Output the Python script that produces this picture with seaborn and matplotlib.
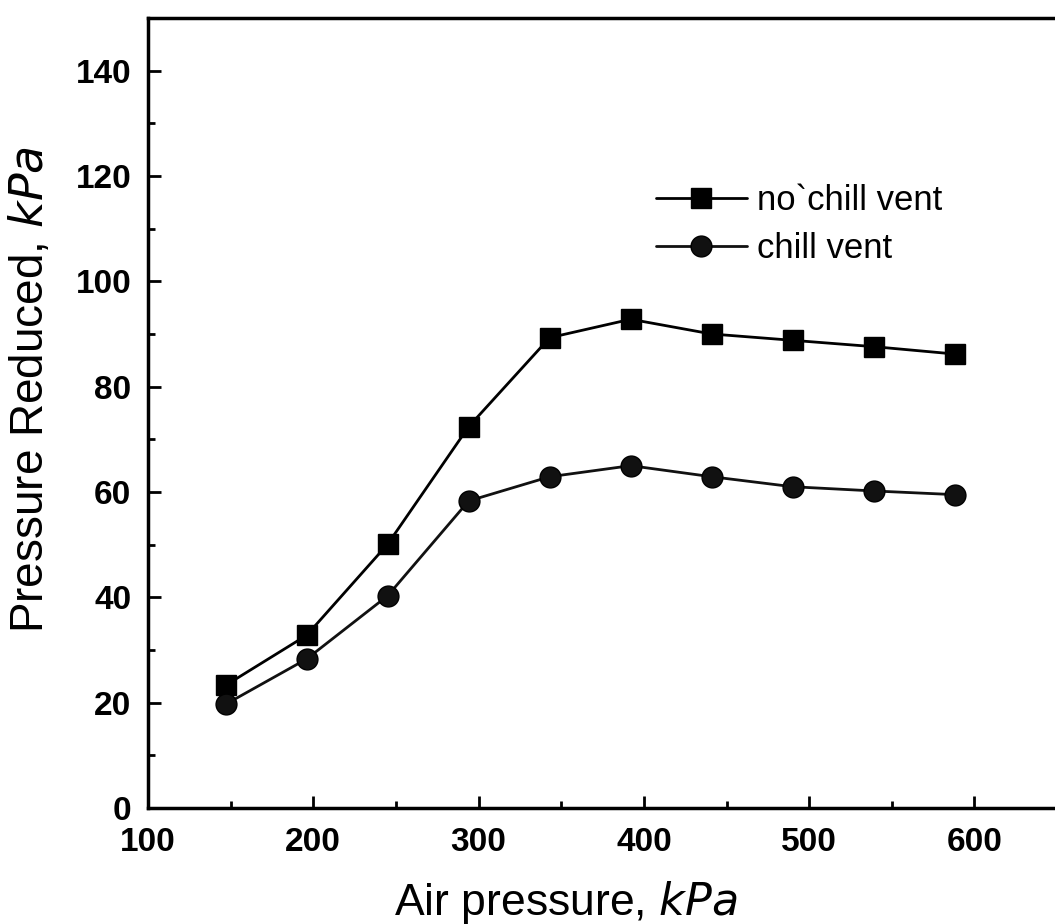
import seaborn as sns
import pandas as pd
import matplotlib.pyplot as plt
from matplotlib.ticker import MultipleLocator

air_pressure = [147, 196, 245, 294, 343, 392, 441, 490, 539, 588]
no_chill = [23.3, 32.8, 50.1, 72.4, 89.3, 92.8, 90.0, 88.8, 87.6, 86.2]
chill = [19.7, 28.3, 40.3, 58.3, 62.9, 65.0, 62.9, 61.0, 60.2, 59.5]
labels = ["no`chill vent", "chill vent"]

df = pd.concat([
    pd.DataFrame({"air": air_pressure, "reduced": no_chill, "case": labels[0]}),
    pd.DataFrame({"air": air_pressure, "reduced": chill, "case": labels[1]}),
])

sns.set_theme(style="ticks")
plt.rcParams['font.family'] = ['Liberation Sans', 'DejaVu Sans']

fig = plt.figure(figsize=(10.55, 9.24), dpi=100)
ax = fig.add_axes([148 / 1055, 116 / 924, 1 - 148 / 1055 + 0.002, 790 / 924])

sns.lineplot(data=df, x="air", y="reduced", hue="case", style="case",
             palette={labels[0]: "black", labels[1]: "#111111"},
             markers={labels[0]: "s", labels[1]: "o"}, dashes=False,
             markersize=15, linewidth=2, markeredgecolor="black",
             markeredgewidth=1, ax=ax)

ax.set_xlim(100, 650)
ax.set_ylim(0, 150)
ax.xaxis.set_major_locator(MultipleLocator(100))
ax.xaxis.set_minor_locator(MultipleLocator(50))
ax.yaxis.set_major_locator(MultipleLocator(20))
ax.yaxis.set_minor_locator(MultipleLocator(10))
ax.tick_params(which="major", direction="in", length=9, width=2, labelsize=24,
               color="black", labelcolor="black")
ax.tick_params(axis="x", which="major", pad=14)
ax.tick_params(axis="y", which="major", pad=12)
ax.tick_params(which="minor", direction="in", length=5, width=2, color="black")
for lab in ax.get_xticklabels() + ax.get_yticklabels():
    lab.set_fontweight("bold")
ax.xaxis.get_major_ticks()[-1].label1.set_visible(False)
for s in ["left", "bottom", "top"]:
    ax.spines[s].set_linewidth(2.5)
    ax.spines[s].set_color("black")
ax.spines["right"].set_visible(False)

ax.set_xlabel("Air pressure, $\\it{kPa}$", fontsize=32, color="black")
ax.set_ylabel("Pressure Reduced, $\\it{kPa}$", fontsize=33, color="black")
ax.xaxis.set_label_coords(0.46, -0.09)
ax.yaxis.set_label_coords(-0.104, 0.53)

leg = ax.legend(title=None, frameon=False, fontsize=25, loc="upper left",
                bbox_to_anchor=(625 / 1055, 1 - 153 / 924), bbox_transform=fig.transFigure,
                handlelength=2.6, handletextpad=0.3, labelspacing=0.42)
for t in leg.get_texts():
    t.set_color("black")

fig.savefig("out.png", dpi=100)
